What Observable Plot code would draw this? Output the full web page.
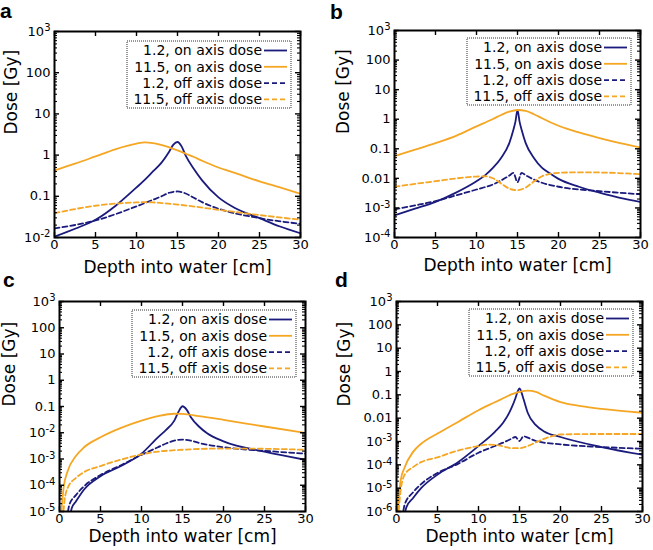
<!DOCTYPE html>
<html><head><meta charset="utf-8">
<script src="https://cdn.jsdelivr.net/npm/d3@7"></script>
<script src="https://cdn.jsdelivr.net/npm/@observablehq/plot@0.6"></script>
<style>
body{margin:0;background:#fff;}
#wrap{position:relative;width:653px;height:550px;overflow:hidden;font-family:"DejaVu Sans",sans-serif;}
#wrap > svg{position:absolute;overflow:visible;}
</style></head><body><div id="wrap"></div>
<script>
// ---------- data ----------
const seriesLabels = ["1.2, on axis dose", "11.5, on axis dose", "1.2, off axis dose", "11.5, off axis dose"];
const xTicks = [0, 5, 10, 15, 20, 25, 30];
const xTitle = "Depth into water [cm]";
const yTitle = "Dose [Gy]";
const panelLetters = ["a", "b", "c", "d"];

// panel a
const aTicks = [1e-2, 1e-1, 1, 10, 100, 1e3];
const aTickLabels = ["10⁻²", "0.1", "1", "10", "100", "10³"];
const aXOn12 = [0,2.5,5,7.5,10,11,12,13,14,14.5,15,15.5,16,17,18,20,22,25,27.5,30];
const aOn12 = [0.0105,0.0163,0.0269,0.060,0.164,0.25,0.40,0.64,1.23,1.79,2.08,1.63,0.97,0.46,0.243,0.094,0.052,0.0295,0.0185,0.0127];
const aXOn115 = [0,2.5,5,7.5,10,11,12,13,14,15,16,17,18,20,22,25,27.5,30];
const aOn115 = [0.425,0.62,0.93,1.40,1.89,2.04,1.96,1.76,1.54,1.30,1.08,0.90,0.73,0.50,0.37,0.23,0.164,0.115];
const aXOff12 = [0,5,10,12,13,14,15,16,17,18,20,25,30];
const aOff12 = [0.0166,0.0259,0.057,0.082,0.099,0.122,0.131,0.117,0.092,0.072,0.050,0.0295,0.0215];
const aXOff115 = [0,5,10,11,12,15,20,25,30];
const aOff115 = [0.039,0.059,0.071,0.072,0.071,0.063,0.047,0.035,0.027];

// panel b
const bTicks = [1e-4, 1e-3, 1e-2, 1e-1, 1, 10, 100, 1e3];
const bTickLabels = ["10⁻⁴", "10⁻³", "0.01", "0.1", "1", "10", "100", "10³"];
const bXOn12 = [0,2.5,5,7.5,10,11,12,13,14,14.5,14.75,15,15.25,15.5,16,17,18,19,20,22.5,25,27.5,30];
const bOn12 = [5.6e-4,9.4e-4,1.6e-3,3.3e-3,8.0e-3,0.0124,0.0225,0.049,0.156,0.44,0.83,2.05,0.83,0.44,0.156,0.049,0.0225,0.0145,9.6e-3,5.2e-3,3.3e-3,2.2e-3,1.6e-3];
const bXOn115 = [0,2.5,5,7.5,10,12,13,14,15,16,17,18,20,22.5,25,27.5,30];
const bOn115 = [0.056,0.093,0.156,0.275,0.57,1.02,1.39,1.80,2.05,1.90,1.47,1.08,0.60,0.356,0.23,0.156,0.111];
const bXOff12 = [0,2.5,5,7.5,10,12,13,14,14.5,15,15.5,16,17,18,20,25,30];
const bOff12 = [9.0e-4,1.22e-3,1.7e-3,2.65e-3,4.2e-3,6.2e-3,8.5e-3,0.0124,0.0153,7.4e-3,0.0153,0.0128,9.1e-3,7.1e-3,5.2e-3,3.7e-3,2.9e-3];
const bXOff115 = [0,2.5,5,7.5,10,11,12,13,14,15,16,17,18,19,20,22.5,25,30];
const bOff115 = [5.2e-3,6.5e-3,8.0e-3,9.9e-3,0.0115,0.0118,0.0101,6.7e-3,4.5e-3,4.0e-3,4.9e-3,7.8e-3,0.0118,0.0142,0.0153,0.0160,0.0158,0.0138];

// panel c
const cTicks = [1e-5, 1e-4, 1e-3, 1e-2, 1e-1, 1, 10, 100, 1e3];
const cTickLabels = ["10⁻⁵", "10⁻⁴", "10⁻³", "10⁻²", "0.1", "1", "10", "100", "10³"];
const cXOn12 = [1.2,1.5,2,3,5,7.5,10,12,13,14,14.5,15,15.5,16,17,18,20,25,30];
const cOn12 = [5e-6,1.35e-5,2.4e-5,6.9e-5,2.2e-4,5.4e-4,1.6e-3,6.7e-3,0.0129,0.029,0.062,0.102,0.076,0.040,0.0173,9.6e-3,4.7e-3,1.9e-3,9.3e-4];
const cXOn115 = [0.1,0.3,0.5,1,2,3,5,7.5,10,12,14,15,17,20,25,30];
const cOn115 = [3e-6,1.8e-5,8e-5,3.5e-4,1.3e-3,2.8e-3,6.7e-3,0.0153,0.029,0.043,0.053,0.052,0.043,0.031,0.0173,9.9e-3];
const cXOff12 = [0.9,1.2,2,3,5,7.5,10,12,13,14,15,16,17,20,25,30];
const cOff12 = [5e-6,1.8e-5,4.2e-5,9.2e-5,2.45e-4,5.8e-4,1.44e-3,2.8e-3,3.9e-3,5.0e-3,5.5e-3,5.0e-3,4.1e-3,2.8e-3,2.05e-3,1.6e-3];
const cXOff115 = [0.4,0.6,1,2,3,5,7.5,10,12,15,20,25,30];
const cOff115 = [5e-6,2.4e-5,8e-5,1.9e-4,3.2e-4,5.4e-4,9.5e-4,1.5e-3,1.9e-3,2.25e-3,2.5e-3,2.45e-3,2.25e-3];

// panel d
const dTicks = [1e-6, 1e-5, 1e-4, 1e-3, 1e-2, 1e-1, 1, 10, 100, 1e3];
const dTickLabels = ["10⁻⁶", "10⁻⁵", "10⁻⁴", "10⁻³", "0.01", "0.1", "1", "10", "100", "10³"];
const dXOn12 = [0.9,1.2,2,3,5,7.5,10,12,13,14,14.5,14.75,15,15.25,15.5,16,17,18,20,25,30];
const dOn12 = [5e-7,1.5e-6,3.7e-6,1.0e-5,3.8e-5,1.3e-4,6.4e-4,2.6e-3,6.3e-3,0.026,0.071,0.13,0.19,0.125,0.064,0.017,5.0e-3,2.7e-3,1.56e-3,5.8e-4,2.7e-4];
const dXOn115 = [0.1,0.3,0.5,1,2,3,5,7.5,10,12,13,14,15,16,17,18,20,22.5,25,30];
const dOn115 = [5e-7,4e-6,2.1e-5,7.9e-5,3.5e-4,8.0e-4,2.2e-3,6.9e-3,0.022,0.048,0.071,0.105,0.133,0.152,0.133,0.092,0.049,0.033,0.025,0.017];
const dXOff12 = [0.7,1,2,3,5,7.5,10,12,13,14,14.5,15,15.5,16,17,20,25,30];
const dOff12 = [5e-7,2.0e-6,6.5e-6,1.5e-5,4.5e-5,1.1e-4,3.3e-4,6.4e-4,8.9e-4,1.3e-3,1.56e-3,1.05e-3,1.67e-3,1.46e-3,1.05e-3,7.5e-4,5.8e-4,4.9e-4];
const dXOff115 = [0.2,0.5,1,2,3,5,7.5,10,11,12,13,14,15,16,17,18,19,20,25,30];
const dOff115 = [5e-7,7.7e-6,3.8e-5,7.9e-5,1.3e-4,2.1e-4,4.1e-4,6.4e-4,7.3e-4,7.1e-4,6.2e-4,5.2e-4,5.2e-4,6.4e-4,9.2e-4,1.3e-3,1.7e-3,2.0e-3,2.1e-3,2.1e-3];

// ---------- styling / layout ----------
const NAVY = "#1b1b7d";
const ORANGE = "#f5a623";
const seriesStyle = [
  {stroke: NAVY, dash: null},
  {stroke: ORANGE, dash: null},
  {stroke: NAVY, dash: "5,3"},
  {stroke: ORANGE, dash: "5,3"}
];

const panels = [
  {left: 0, top: 0, width: 326, height: 280, ml: 54, mr: 26, mt: 31, mb: 43, xDy: 30, yDx: -42.5, legTop: 10,
   ticks: aTicks, labels: aTickLabels, series: [[aXOn12, aOn12], [aXOn115, aOn115], [aXOff12, aOff12], [aXOff115, aOff115]]},
  {left: 326, top: 0, width: 327, height: 280, ml: 68, mr: 13, mt: 30, mb: 43, xDy: 28, yDx: -51, legTop: 8,
   ticks: bTicks, labels: bTickLabels, series: [[bXOn12, bOn12], [bXOn115, bOn115], [bXOff12, bOff12], [bXOff115, bOff115]]},
  {left: 0, top: 270, width: 326, height: 280, ml: 59, mr: 21, mt: 31, mb: 39, xDy: 25, yDx: -49.5, legTop: 9,
   ticks: cTicks, labels: cTickLabels, series: [[cXOn12, cOn12], [cXOn115, cOn115], [cXOff12, cOff12], [cXOff115, cOff115]]},
  {left: 326, top: 270, width: 327, height: 280, ml: 70, mr: 11, mt: 31, mb: 39, xDy: 25.5, yDx: -51.5, legTop: 8,
   ticks: dTicks, labels: dTickLabels, series: [[dXOn12, dOn12], [dXOn115, dOn115], [dXOff12, dOff12], [dXOff115, dOff115]]}
];

const supMap = {"⁻": "-", "⁰": "0", "¹": "1", "²": "2", "³": "3", "⁴": "4", "⁵": "5", "⁶": "6", "⁷": "7", "⁸": "8", "⁹": "9"};
const supRe = /^(\d+)([⁻⁰¹²³⁴⁵⁶⁷⁸⁹]+)$/;

const wrap = document.getElementById("wrap");

for (const p of panels) {
  const W = p.width - p.ml - p.mr;
  const H = p.height - p.mt - p.mb;
  const majors = p.ticks;
  const minors = [];
  for (const m of majors.slice(0, -1)) for (let k = 2; k <= 9; k++) minors.push(m * k);

  const lineMarks = p.series.map(([xs, ys], i) =>
    Plot.line(xs.map((x, j) => ({x, y: ys[j]})), {
      x: "x", y: "y", stroke: seriesStyle[i].stroke, strokeWidth: 1.8,
      strokeDasharray: seriesStyle[i].dash, curve: "monotone-x", clip: true
    })
  );

  const chart = Plot.plot({
    width: p.width, height: p.height,
    marginLeft: p.ml, marginRight: p.mr, marginTop: p.mt, marginBottom: p.mb,
    style: {fontFamily: "DejaVu Sans", fontSize: "13px", background: "transparent", overflow: "visible"},
    x: {domain: [0, 30], axis: null},
    y: {type: "log", domain: [majors[0], majors[majors.length - 1]], axis: null},
    marks: [
      ...lineMarks,
      // inward ticks
      Plot.tickY(majors, {y: d => d, insetRight: W - 5, stroke: "black", strokeWidth: 1.4}),
      Plot.tickY(majors, {y: d => d, insetLeft: W - 5, stroke: "black", strokeWidth: 1.4}),
      Plot.tickY(minors, {y: d => d, insetRight: W - 3, stroke: "black", strokeWidth: 1.1}),
      Plot.tickY(minors, {y: d => d, insetLeft: W - 3, stroke: "black", strokeWidth: 1.1}),
      Plot.tickX(xTicks, {x: d => d, insetTop: H - 5, stroke: "black", strokeWidth: 1.4}),
      Plot.tickX(xTicks, {x: d => d, insetBottom: H - 5, stroke: "black", strokeWidth: 1.4}),
      Plot.frame({stroke: "black", strokeWidth: 2}),
      // tick labels
      Plot.text(majors, {y: d => d, text: (d, i) => p.labels[i], frameAnchor: "left", textAnchor: "end", dx: -4, fontSize: 13}),
      Plot.text(xTicks, {x: d => d, text: d => String(d), frameAnchor: "bottom", lineAnchor: "top", dy: 2, fontSize: 13}),
      // axis titles
      Plot.text([xTitle], {text: d => d, frameAnchor: "bottom", lineAnchor: "middle", dy: p.xDy, fontSize: 17}),
      Plot.text([yTitle], {text: d => d, frameAnchor: "left", rotate: -90, dx: p.yDx, fontSize: 17})
    ]
  });
  chart.style.left = p.left + "px";
  chart.style.top = p.top + "px";
  chart.style.maxWidth = "none";

  const svg = d3.select(chart);

  // render power-of-ten labels with a real raised exponent
  svg.selectAll("text").each(function () {
    const m = supRe.exec(this.textContent);
    if (!m) return;
    const exp = Array.from(m[2]).map(c => supMap[c]).join("");
    const t = d3.select(this);
    t.text(null);
    t.append("tspan").text(m[1]);
    t.append("tspan").attr("dy", "-0.45em").attr("font-size", 10).text(exp);
  });

  // legend (inside frame, top-right)
  const fr = p.ml + W; // frame right
  const boxTop = p.mt + p.legTop;
  const g = svg.append("g").attr("font-family", "DejaVu Sans").attr("font-size", 14);
  g.append("rect")
    .attr("x", fr - 173).attr("y", boxTop).attr("width", 164).attr("height", 67)
    .attr("fill", "white").attr("stroke", "#333").attr("stroke-width", 1).attr("stroke-dasharray", "1,1");
  seriesLabels.forEach((lab, i) => {
    const yy = boxTop + 9.5 + 16.3 * i;
    g.append("text").attr("x", fr - 38).attr("y", yy).attr("dy", "0.35em")
      .attr("text-anchor", "end").attr("fill", "black").text(lab);
    g.append("line").attr("x1", fr - 36).attr("x2", fr - 13).attr("y1", yy).attr("y2", yy)
      .attr("stroke", seriesStyle[i].stroke).attr("stroke-width", 1.8)
      .attr("stroke-dasharray", seriesStyle[i].dash);
  });

  wrap.appendChild(chart);
}

// panel letters
const overlay = d3.select(wrap).append("svg")
  .attr("width", 653).attr("height", 550)
  .style("left", "0px").style("top", "0px").style("pointer-events", "none");
const letterPos = [[0, 18], [330, 19], [3, 287], [335, 287]];
panelLetters.forEach((l, i) => {
  overlay.append("text").attr("x", letterPos[i][0]).attr("y", letterPos[i][1])
    .attr("font-family", "Liberation Sans, Arial, sans-serif").attr("font-weight", "bold")
    .attr("font-size", 21).attr("fill", "black").text(l);
});
</script></body></html>
